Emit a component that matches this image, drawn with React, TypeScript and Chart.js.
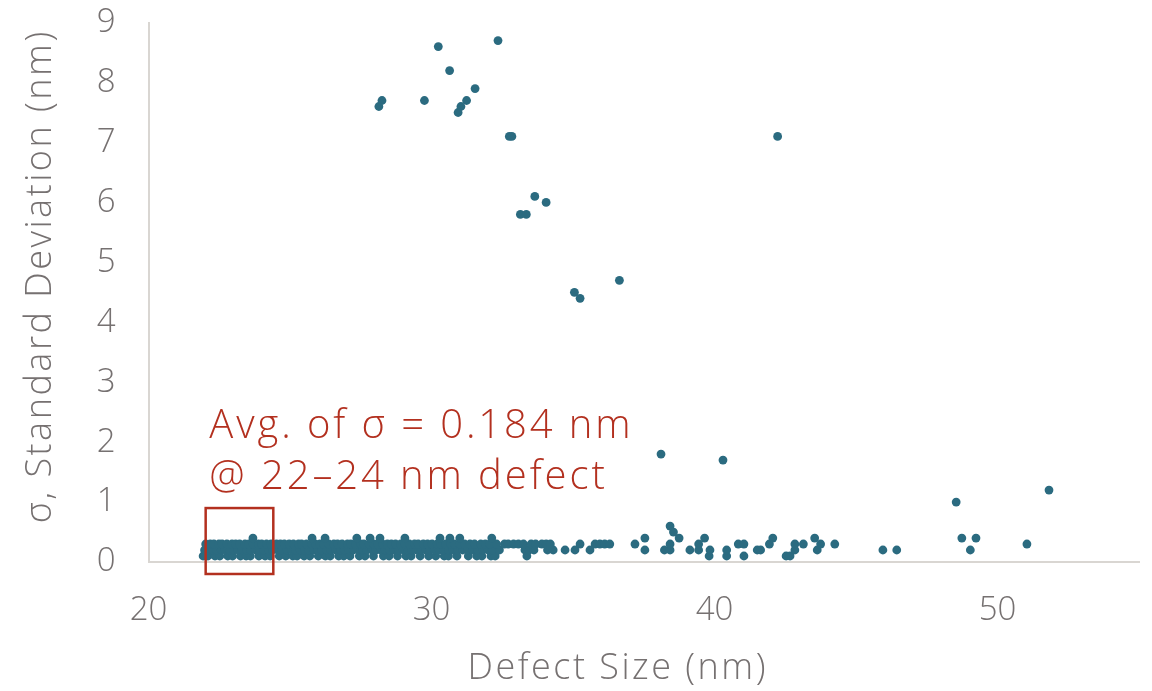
import React, { useEffect, useRef } from "react";
import { Chart, registerables } from "chart.js";

Chart.register(...registerables);

// ---- Data ----
// Outliers (defect size nm, sigma nm)
const outlierX = [30.24, 32.35, 30.64, 31.54, 28.25, 28.14, 29.75, 31.24, 31.04, 30.94, 32.75, 32.84, 42.23, 33.65, 34.05, 33.14, 33.35, 35.05, 35.25, 36.64, 38.11, 40.3, 48.54, 51.82, 38.43, 38.55];
const outlierY = [8.6, 8.7, 8.2, 7.9, 7.7, 7.6, 7.7, 7.7, 7.6, 7.5, 7.1, 7.1, 7.1, 6.1, 6.0, 5.8, 5.8, 4.5, 4.4, 4.7, 1.8, 1.7, 1.0, 1.2, 0.6, 0.5];

// Low-sigma points, grouped by their sigma level
const sigma04X = [23.69, 25.78, 26.24, 27.36, 27.83, 28.18, 29.06, 30.3, 30.65, 31.0, 32.13, 37.54, 38.75, 39.65, 42.06, 43.54, 48.74, 49.24];
const sigma03X = [22.02, 22.18, 22.31, 22.49, 22.6, 22.77, 22.95, 23.08, 23.22, 23.41, 23.55, 23.7, 23.88, 24.0, 24.17, 24.33, 24.52, 24.66, 24.8, 24.97, 25.12, 25.3, 25.41, 25.58, 25.77, 25.9, 26.06, 26.19, 26.37, 26.55, 26.68, 26.84, 27.03, 27.15, 27.32, 27.5, 27.61, 27.8, 27.96, 28.1, 28.27, 28.44, 28.58, 28.73, 28.91, 29.06, 29.22, 29.4, 29.53, 29.71, 29.86, 30.02, 30.2, 30.33, 30.5, 30.68, 30.81, 31.0, 31.17, 31.36, 31.52, 31.74, 31.9, 32.06, 32.3, 32.58, 32.71, 32.9, 33.07, 33.25, 33.52, 33.68, 33.9, 34.05, 34.2, 35.25, 35.78, 35.95, 36.12, 36.3, 37.19, 38.43, 39.44, 40.84, 41.04, 41.94, 42.84, 43.14, 43.75, 44.25, 51.04];
const sigma02X = [21.98, 22.12, 22.26, 22.4, 22.57, 22.71, 22.86, 23.0, 23.16, 23.3, 23.47, 23.61, 23.79, 23.92, 24.07, 24.24, 24.38, 24.56, 24.7, 24.9, 25.05, 25.2, 25.36, 25.52, 25.66, 25.83, 25.98, 26.12, 26.3, 26.44, 26.61, 26.78, 26.92, 27.08, 27.24, 27.42, 27.57, 27.72, 27.9, 28.04, 28.2, 28.36, 28.52, 28.67, 28.84, 29.0, 29.15, 29.31, 29.47, 29.64, 29.8, 29.93, 30.1, 30.27, 30.44, 30.6, 30.76, 30.92, 31.1, 31.28, 31.45, 31.63, 31.82, 32.0, 32.15, 32.4, 33.3, 33.45, 33.62, 34.1, 34.3, 34.72, 35.07, 35.6, 37.54, 38.23, 38.43, 39.13, 39.44, 39.84, 40.43, 41.51, 41.63, 42.84, 43.63, 45.95, 46.44, 49.04];
const sigma01X = [21.93, 22.1, 22.35, 22.52, 22.8, 22.97, 23.25, 23.45, 23.6, 23.9, 24.12, 24.3, 24.62, 24.85, 25.1, 25.25, 25.5, 25.7, 26.0, 26.25, 26.42, 26.72, 26.9, 27.12, 27.45, 27.65, 27.95, 28.3, 28.5, 28.8, 29.1, 29.28, 29.6, 29.9, 30.15, 30.45, 30.6, 30.9, 31.3, 31.6, 31.78, 32.1, 32.25, 33.37, 39.81, 40.43, 41.04, 42.53, 42.67];

const xTickValues = [20, 30, 40, 50];
const yTickValues = [0, 1, 2, 3, 4, 5, 6, 7, 8, 9];

const xTitle = "Defect Size (nm)";
const yTitle = "σ, Standard Deviation (nm)";
const noteLines = ["Avg. of σ = 0.184 nm", "@ 22–24 nm defect"];
const noteBoxX = [22.02, 24.41];
const noteBoxY = [-0.2, 0.9];
const noteTextX = 22.15;
const noteTextY = [2.07, 1.22];

const POINT = "#2b6b80";
const TEXT = "#767171";
const AXIS = "#d9d6d2";
const RED = "#b3301f";
const FONT = "'Open Sans', 'DejaVu Sans', sans-serif";

// screen offsets of the axis titles relative to the plot-centred default
const titleShift: Record<string, [number, number]> = { x: [-26, 0], y: [0, -16] };

function buildPoints() {
  const pts: { x: number; y: number }[] = [];
  sigma01X.forEach((x) => pts.push({ x, y: 0.1 }));
  sigma02X.forEach((x) => pts.push({ x, y: 0.2 }));
  sigma03X.forEach((x) => pts.push({ x, y: 0.3 }));
  sigma04X.forEach((x) => pts.push({ x, y: 0.4 }));
  outlierX.forEach((x, i) => pts.push({ x, y: outlierY[i] }));
  return pts;
}

// Widen axis-title lettering a little (the original face is a wide geometric sans)
const titleSpacingPlugin = {
  id: "titleSpacing",
  afterUpdate(chart: any) {
    Object.values(chart.scales).forEach((s: any) => {
      if (s.__spaced) return;
      const orig = s.drawTitle.bind(s);
      s.drawTitle = (...args: any[]) => {
        const c = s.ctx;
        const shift = titleShift[s.id] || [0, 0];
        c.save();
        c.translate(shift[0], shift[1]);
        c.letterSpacing = "2.5px";
        orig(...args);
        c.letterSpacing = "0px";
        c.restore();
      };
      s.__spaced = true;
    });
  },
};

const notePlugin = {
  id: "note",
  afterDatasetsDraw(chart: any) {
    const { ctx, scales } = chart;
    const xs = scales.x;
    const ys = scales.y;
    ctx.save();
    ctx.strokeStyle = RED;
    ctx.lineWidth = 2.5;
    const x0 = xs.getPixelForValue(noteBoxX[0]);
    const x1 = xs.getPixelForValue(noteBoxX[1]);
    const y0 = ys.getPixelForValue(noteBoxY[1]);
    const y1 = ys.getPixelForValue(noteBoxY[0]);
    ctx.strokeRect(x0, y0, x1 - x0, y1 - y0);
    ctx.fillStyle = RED;
    ctx.font = `300 40px ${FONT}`;
    (ctx as any).letterSpacing = "2.9px";
    ctx.textBaseline = "alphabetic";
    ctx.textAlign = "left";
    noteLines.forEach((t, i) => {
      ctx.fillText(t, xs.getPixelForValue(noteTextX), ys.getPixelForValue(noteTextY[i]));
    });
    (ctx as any).letterSpacing = "0px";
    ctx.restore();
  },
};

export default function App() {
  const ref = useRef<HTMLCanvasElement | null>(null);
  useEffect(() => {
    if (!ref.current) return;
    const chart = new Chart(ref.current, {
      type: "scatter",
      data: {
        datasets: [
          {
            data: buildPoints(),
            backgroundColor: POINT,
            borderWidth: 0,
            pointRadius: 4.4,
          },
        ],
      },
      options: {
        responsive: false,
        animation: false,
        layout: { padding: { top: 22.6, right: 13, bottom: 0, left: 0 } },
        plugins: { legend: { display: false }, tooltip: { enabled: false } },
        scales: {
          x: {
            type: "linear",
            min: 20,
            max: 55,
            afterFit: (s: any) => {
              s.height = 129;
              s.paddingLeft = 0;
              s.paddingRight = 0;
            },
            afterBuildTicks: (s: any) => {
              s.ticks = xTickValues.map((v) => ({ value: v }));
            },
            grid: { display: false, drawTicks: false },
            border: { display: true, color: AXIS, width: 2 },
            ticks: { color: TEXT, font: { family: FONT, size: 33, weight: 300 }, padding: 29 },
            title: {
              display: true,
              text: xTitle,
              color: TEXT,
              font: { family: FONT, size: 36, weight: 300 },
              padding: { top: 0, bottom: 1 },
            },
          },
          y: {
            type: "linear",
            min: 0,
            max: 9,
            afterFit: (s: any) => {
              s.width = 148.5;
              s.paddingTop = 0;
              s.paddingBottom = 0;
            },
            afterBuildTicks: (s: any) => {
              s.ticks = yTickValues.map((v) => ({ value: v }));
            },
            grid: { display: false, drawTicks: false },
            border: { display: true, color: AXIS, width: 2 },
            ticks: { color: TEXT, font: { family: FONT, size: 33, weight: 300 }, padding: 33 },
            title: {
              display: true,
              text: yTitle,
              color: TEXT,
              font: { family: FONT, size: 36, weight: 300 },
              padding: { top: 19, bottom: 0 },
            },
          },
        },
      },
      plugins: [titleSpacingPlugin, notePlugin],
    });
    return () => chart.destroy();
  }, []);
  return (
    <div style={{ position: "absolute", left: 0, top: 0, width: 1152, height: 691, background: "#fff" }}>
      <canvas ref={ref} width={1152} height={691} />
    </div>
  );
}
